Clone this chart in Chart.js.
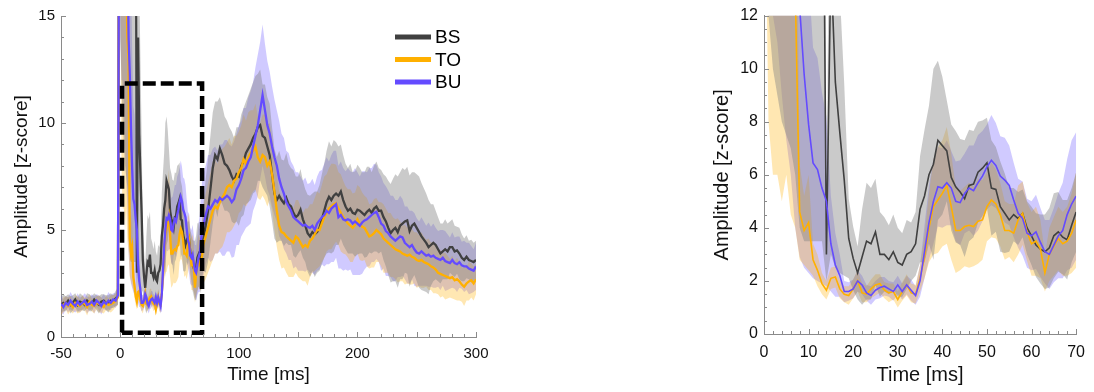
<!DOCTYPE html>
<html>
<head>
<meta charset="utf-8">
<script src="https://cdn.jsdelivr.net/npm/chart.js@4.4.1/dist/chart.umd.min.js"></script>
<style>
  html, body { margin: 0; padding: 0; background: #fff; }
  #wrap { position: relative; width: 1094px; height: 392px; }
  canvas { position: absolute; top: 0; }
  #fullChart { left: 0; }
  #zoomChart { left: 700px; }
</style>
</head>
<body>
<div id="wrap">
  <canvas id="fullChart" width="500" height="392"></canvas>
  <canvas id="zoomChart" width="394" height="392"></canvas>
</div>
<script>
// sample times: 2 ms steps before 0, 1 ms steps in 0..70, 2 ms steps after
const timeMs = [];
for (let t = -50; t < 0; t += 2) timeMs.push(t);
for (let t = 0; t <= 70; t++) timeMs.push(t);
for (let t = 72; t <= 300; t += 2) timeMs.push(t);

const seriesNames = ['BS', 'TO', 'BU'];
const fullXTicks = [-50, 0, 100, 200, 300];
const zoomBox = { x: [1.5, 69], y: [0.2, 11.85] };

// mean amplitude (z-score)
const bsMean = [
  1.5, 1.6, 1.55, 1.7, 1.5, 1.6, 1.75, 1.5, 1.65, 1.6,
  1.5, 1.7, 1.6, 1.55, 1.75, 1.6, 1.5, 1.65, 1.7, 1.6,
  1.55, 1.7, 1.65, 1.8, 1.9,
  40, 45, 45, 45, 45, 45, 45, 45, 45, 45,
  40, 35, 30, 25, 3.0, 14, 9.5, 7.6, 5.8, 3.6,
  2.85, 2.3, 2.9, 3.5, 3.4, 3.85, 3.0, 3.0, 2.8, 3.1,
  2.7, 2.6, 3.0, 3.1, 3.4, 4.7, 5.2, 6.0, 6.4, 7.3,
  7.1, 6.9, 5.9, 5.55, 5.35, 5.1, 5.6, 5.65, 6.1, 6.25,
  6.45, 5.5, 5.45, 4.8, 4.55, 4.3, 4.5, 4.35, 4.55, 4.0,
  3.7, 3.35, 3.2, 3.1, 3.25, 3.7, 3.85, 3.65, 3.55, 4.1,
  4.6,
  5.2, 5.9, 6.9, 7.9, 8.5, 8.3, 8.8, 8.5, 8.1, 8.0,
  7.8, 7.5, 7.3, 7.6, 7.5, 8.0, 8.2, 8.6, 8.8, 9.0,
  9.3, 9.5, 9.8, 9.9, 9.4, 9.3, 8.9, 8.5, 7.6, 6.7,
  6.4, 6.6, 6.4, 6.25, 6.5, 6.2, 6.1, 5.8, 5.6, 5.7,
  5.95, 5.5, 5.2, 4.85, 4.7, 4.9, 4.8, 4.9, 5.1, 5.5,
  5.9, 6.3, 6.55, 6.4, 6.6, 6.7, 6.6, 6.8, 6.4, 6.1,
  5.9, 6.0, 5.8, 5.75, 5.95, 5.9, 5.8, 5.7, 5.85, 5.95,
  5.8, 6.0, 6.1, 5.9, 5.9, 5.6, 5.4, 5.1, 4.85, 5.0,
  5.1, 4.9, 5.2, 5.3, 5.4, 5.45, 4.95, 5.2, 5.3, 5.1,
  4.9, 4.7, 4.55, 4.4, 4.2, 4.3, 4.4, 4.3, 4.1, 3.9,
  4.0, 4.1, 4.0, 4.2, 4.2, 4.0, 4.05, 3.9, 3.7, 3.6,
  3.75, 3.6, 3.55, 3.5, 3.6
];
const toMean = [
  1.35, 1.5, 1.6, 1.45, 1.55, 1.4, 1.6, 1.5, 1.45, 1.6,
  1.55, 1.4, 1.65, 1.5, 1.45, 1.6, 1.55, 1.5, 1.4, 1.6,
  1.5, 1.55, 1.6, 1.7, 1.85,
  40, 38, 34, 28, 22, 17, 14, 13, 4.6, 3.9,
  4.2, 2.8, 2.4, 1.9, 1.65, 2.1, 2.15, 1.7, 1.5, 1.45,
  1.7, 2.0, 1.55, 1.5, 1.7, 1.85, 1.9, 1.65, 1.55, 1.6,
  1.3, 1.6, 1.85, 1.55, 1.5, 2.1, 2.9, 4.0, 4.8, 5.05,
  5.3, 5.6, 4.8, 3.9, 3.9, 4.05, 4.1, 4.05, 4.25, 4.3,
  4.8, 5.05, 4.9, 4.5, 3.9, 3.9, 3.8, 4.3, 4.55, 3.85,
  3.4, 3.5, 3.2, 2.3, 3.0, 3.3, 3.6, 3.4, 3.5, 3.8,
  4.3,
  4.7, 5.1, 5.5, 5.9, 6.1, 6.0, 6.3, 6.5, 6.7, 7.0,
  7.1, 7.0, 7.3, 7.4, 7.7, 7.9, 8.3, 8.1, 8.4, 8.6,
  8.7, 8.9, 8.4, 8.2, 8.5, 8.4, 8.0, 8.2, 7.6, 6.8,
  5.9, 5.2, 4.9, 4.85, 4.7, 4.6, 4.5, 4.4, 4.7, 4.6,
  4.4, 4.2, 4.3, 4.2, 4.5, 4.6, 4.8, 5.0, 5.0, 5.3,
  5.6, 5.8, 6.0, 6.1, 6.2, 6.25, 6.0, 5.8, 5.6, 5.45,
  5.3, 5.2, 5.1, 5.25, 5.5, 5.3, 5.15, 5.1, 4.9, 4.7,
  4.75, 4.85, 5.0, 4.9, 4.8, 4.6, 4.5, 4.4, 4.3, 4.2,
  4.1, 4.05, 4.0, 3.9, 3.85, 3.8, 3.85, 3.75, 3.7, 3.6,
  3.55, 3.6, 3.5, 3.45, 3.4, 3.3, 3.25, 3.15, 3.0, 2.95,
  2.9, 2.85, 2.8, 2.75, 2.8, 2.65, 2.7, 2.6, 2.45, 2.35,
  2.5, 2.6, 2.65, 2.5, 2.7
];
const buMean = [
  1.55, 1.4, 1.6, 1.5, 1.7, 1.55, 1.45, 1.65, 1.5, 1.6,
  1.7, 1.5, 1.55, 1.65, 1.5, 1.7, 1.6, 1.45, 1.65, 1.55,
  1.7, 1.6, 1.75, 1.7, 1.95,
  40, 40, 38, 35, 30, 25, 19, 14, 12.3, 9.8,
  7.9, 6.45, 6.2, 5.5, 5.0, 3.4, 2.6, 2.2, 1.6, 1.6,
  1.7, 2.0, 1.85, 1.55, 1.45, 1.65, 1.75, 1.8, 1.7, 1.6,
  1.85, 1.6, 1.85, 1.65, 1.45, 2.0, 3.1, 4.2, 5.0, 5.55,
  5.5, 5.7, 5.5, 5.0, 4.95, 5.3, 5.5, 5.4, 5.7, 5.95,
  6.3, 6.55, 6.35, 5.95, 5.8, 5.6, 5.05, 4.55, 4.35, 3.8,
  3.7, 3.85, 3.45, 3.1, 3.0, 3.35, 3.7, 3.9, 4.5, 4.9,
  5.2,
  5.7, 6.1, 6.0, 6.2, 6.4, 6.3, 6.5, 6.4, 6.5, 6.6,
  6.5, 6.3, 6.45, 6.9, 7.1, 7.4, 7.8, 7.9, 8.2, 8.4,
  8.9, 9.4, 9.9, 10.6, 11.3, 10.6, 9.9, 9.5, 8.9, 8.4,
  8.0, 7.4, 7.0, 6.7, 6.3, 6.1, 5.9, 5.6, 5.5, 5.4,
  5.3, 5.2, 5.25, 5.15, 5.1, 5.2, 5.0, 5.3, 5.45, 5.6,
  5.7, 5.9, 5.8, 6.0, 6.1, 6.2, 5.6, 5.7, 5.5, 5.45,
  5.5, 5.45, 5.3, 5.4, 5.3, 5.2, 5.35, 5.45, 5.5, 5.6,
  5.7, 5.8, 5.85, 5.6, 5.3, 5.2, 4.95, 4.85, 4.7, 4.6,
  4.5, 4.6, 4.7, 4.65, 4.4, 4.3, 4.2, 4.3, 4.1, 3.95,
  3.9, 4.0, 3.9, 3.8, 3.85, 3.75, 3.8, 3.7, 3.65, 3.6,
  3.7, 3.55, 3.5, 3.45, 3.6, 3.45, 3.4, 3.5, 3.35, 3.3,
  3.3, 3.2, 3.15, 3.1, 3.3
];

// half-width of the shaded band around each mean
const bsErr = [
  0.35, 0.4, 0.35, 0.3, 0.4, 0.35, 0.3, 0.35, 0.4, 0.35,
  0.3, 0.35, 0.4, 0.35, 0.3, 0.35, 0.4, 0.35, 0.3, 0.35,
  0.4, 0.35, 0.3, 0.35, 0.4,
  26, 33, 35, 36, 37, 37.5, 38, 39, 41, 41.5,
  36.5, 31.5, 26.5, 21.5, 1.0, 11, 7, 5.3, 3.6, 1.5,
  1.2, 1.0, 1.8, 2.2, 2.1, 2.0, 1.6, 1.4, 1.3, 1.4,
  1.3, 1.2, 1.3, 1.1, 1.2, 2.0, 2.5, 2.6, 3.6, 3.0,
  2.6, 1.9, 2.0, 2.1, 2.0, 2.2, 2.1, 2.0, 1.9, 1.8,
  1.7, 1.8, 1.6, 1.7, 1.5, 1.2, 1.0, 1.0, 0.9, 1.0,
  1.1, 1.2, 1.3, 1.4, 1.5, 1.6, 1.5, 1.4, 1.5, 1.4,
  1.5,
  2.2, 2.4, 2.5, 2.6, 2.5, 2.7, 2.4, 2.3, 2.2, 2.1,
  2.0, 2.1, 2.0, 2.2, 2.3, 2.4, 2.5, 2.4, 2.5, 2.6,
  2.6, 2.7, 2.5, 2.6, 2.4, 2.5, 2.3, 2.4, 2.2, 2.1,
  2.0, 2.1, 1.9, 2.0, 2.1, 1.9, 1.8, 2.0, 1.9, 1.8,
  1.9, 1.8, 1.7, 1.8, 1.9, 1.8, 2.0, 1.9, 2.0, 2.1,
  2.2, 2.4, 2.6, 2.5, 2.6, 2.4, 2.3, 2.2, 2.1, 2.0,
  2.0, 2.1, 1.9, 2.0, 2.1, 2.0, 1.9, 2.0, 2.1, 2.0,
  1.9, 2.0, 2.1, 2.0, 1.9, 2.0, 2.1, 2.2, 2.3, 2.4,
  2.5, 2.6, 2.5, 2.6, 2.4, 2.5, 2.6, 2.5, 2.4, 2.5,
  2.6, 2.5, 2.4, 2.3, 2.2, 1.9, 1.8, 1.6, 1.5, 1.4,
  1.3, 1.4, 1.3, 1.2, 1.3, 1.2, 1.1, 1.2, 1.1, 1.0,
  1.0, 0.9, 1.0, 0.9, 0.9
];
const toErr = [
  0.3, 0.35, 0.3, 0.4, 0.35, 0.3, 0.35, 0.4, 0.3, 0.35,
  0.3, 0.4, 0.35, 0.3, 0.35, 0.3, 0.4, 0.35, 0.3, 0.35,
  0.3, 0.4, 0.35, 0.3, 0.35,
  20, 30, 28, 22, 17, 11, 9.5, 9, 1.8, 1.3,
  1.8, 0.6, 0.6, 0.4, 0.35, 0.4, 0.4, 0.35, 0.3, 0.35,
  0.35, 0.4, 0.35, 0.3, 0.35, 0.4, 0.35, 0.3, 0.35, 0.3,
  0.3, 0.35, 0.4, 0.35, 0.35, 0.5, 0.8, 1.3, 1.8, 2.0,
  2.0, 2.2, 2.0, 1.6, 1.5, 1.5, 1.6, 1.5, 1.6, 1.5,
  1.3, 1.4, 1.3, 1.2, 1.1, 1.0, 1.1, 1.3, 1.2, 1.1,
  1.2, 1.3, 1.1, 0.7, 1.0, 1.1, 1.2, 1.2, 1.3, 1.5,
  1.8,
  2.0, 2.1, 2.2, 2.3, 2.2, 2.1, 2.2, 2.3, 2.2, 2.1,
  2.2, 2.0, 2.1, 2.0, 1.9, 2.0, 2.1, 2.0, 2.1, 2.0,
  1.9, 2.0, 1.9, 1.8, 1.9, 2.0, 1.9, 1.8, 1.7, 1.8,
  1.7, 1.6, 1.7, 1.6, 1.7, 1.8, 1.7, 1.6, 1.7, 1.8,
  1.7, 1.6, 1.7, 1.8, 1.7, 1.6, 1.7, 1.8, 1.7, 1.8,
  1.9, 1.8, 1.9, 2.0, 1.9, 1.8, 1.7, 1.8, 1.7, 1.6,
  1.6, 1.7, 1.6, 1.5, 1.6, 1.7, 1.6, 1.5, 1.6, 1.5,
  1.5, 1.6, 1.5, 1.4, 1.5, 1.6, 1.5, 1.4, 1.5, 1.4,
  1.4, 1.5, 1.4, 1.3, 1.4, 1.3, 1.4, 1.3, 1.2, 1.3,
  1.2, 1.3, 1.2, 1.1, 1.2, 1.1, 1.2, 1.1, 1.0, 1.1,
  1.0, 1.1, 1.0, 0.9, 1.0, 0.9, 1.0, 0.9, 0.8, 0.9,
  0.8, 0.9, 0.8, 0.8, 0.7
];
const buErr = [
  0.4, 0.35, 0.3, 0.35, 0.4, 0.35, 0.3, 0.4, 0.35, 0.3,
  0.35, 0.4, 0.3, 0.35, 0.4, 0.3, 0.35, 0.4, 0.35, 0.3,
  0.4, 0.35, 0.3, 0.35, 0.4,
  25, 28, 26, 24, 21, 17.7, 13, 10, 9.4, 7.3,
  5.6, 4.35, 4.2, 3.6, 3.2, 1.8, 1.2, 0.8, 0.4, 0.35,
  0.35, 0.4, 0.35, 0.3, 0.35, 0.35, 0.4, 0.35, 0.3, 0.35,
  0.35, 0.3, 0.35, 0.4, 0.35, 0.6, 1.0, 1.4, 1.6, 1.5,
  1.5, 1.6, 1.4, 1.5, 1.6, 1.5, 1.6, 1.7, 1.8, 1.7,
  1.6, 1.7, 1.6, 1.5, 1.6, 1.5, 1.4, 1.3, 1.4, 1.3,
  1.3, 1.4, 1.3, 1.2, 1.3, 1.4, 1.6, 1.8, 2.1, 2.4,
  2.4,
  2.3, 2.4, 2.5, 2.6, 2.5, 2.4, 2.5, 2.6, 2.7, 2.6,
  2.5, 2.6, 2.7, 2.6, 2.8, 2.7, 2.9, 2.8, 3.0, 3.1,
  3.0, 3.2, 3.3, 3.2, 3.3, 3.1, 3.0, 2.9, 2.8, 2.7,
  2.6, 2.7, 2.5, 2.6, 2.4, 2.5, 2.3, 2.4, 2.2, 2.3,
  2.2, 2.1, 2.2, 2.0, 2.1, 2.2, 2.1, 2.2, 2.3, 2.2,
  2.4, 2.5, 2.4, 2.5, 2.6, 2.5, 2.4, 2.5, 2.4, 2.3,
  2.4, 2.3, 2.4, 2.5, 2.4, 2.3, 2.4, 2.3, 2.2, 2.3,
  2.2, 2.3, 2.2, 2.1, 2.2, 2.0, 2.1, 2.0, 1.9, 2.0,
  1.9, 1.8, 1.9, 1.8, 1.7, 1.8, 1.7, 1.6, 1.7, 1.6,
  1.5, 1.6, 1.5, 1.4, 1.5, 1.4, 1.5, 1.4, 1.3, 1.4,
  1.3, 1.4, 1.3, 1.2, 1.3, 1.2, 1.3, 1.2, 1.1, 1.2,
  1.1, 1.2, 1.1, 1.0, 1.1
];

const lineColors = ['#404040', '#FFB000', '#644BFF'];
const bandColors = ['rgba(128,128,128,0.42)', 'rgba(255,176,0,0.3)', 'rgba(100,80,255,0.3)'];
const axisGray = '#8a8a8a';

const series = [
  { mean: bsMean, err: bsErr },
  { mean: toMean, err: toErr },
  { mean: buMean, err: buErr }
];

series.forEach((s, k) => {
  if (s.mean.length !== timeMs.length || s.err.length !== timeMs.length) {
    console.warn(seriesNames[k], s.mean.length, s.err.length, timeMs.length);
  }
});

Chart.defaults.font.family = "'Liberation Sans', Arial, Helvetica, sans-serif";
Chart.defaults.color = '#111';

function points(values) {
  return timeMs.map((t, i) => ({ x: t, y: values[i] }));
}

function buildDatasets(lineWidth) {
  const sets = [];
  series.forEach((s, k) => {
    sets.push({
      label: seriesNames[k] + ' upper',
      data: points(s.mean.map((m, i) => m + s.err[i])),
      borderWidth: 0, pointRadius: 0, fill: '+1',
      backgroundColor: bandColors[k], order: 10
    });
    sets.push({
      label: seriesNames[k] + ' lower',
      data: points(s.mean.map((m, i) => m - s.err[i])),
      borderWidth: 0, pointRadius: 0, fill: false, order: 10
    });
  });
  series.forEach((s, k) => {
    sets.push({
      label: seriesNames[k],
      data: points(s.mean),
      borderColor: lineColors[k], borderWidth: lineWidth,
      pointRadius: 0, fill: false, tension: 0, order: 3 - k
    });
  });
  return sets;
}

// MATLAB-style ticks pointing into the plot
const innerTicks = {
  id: 'innerTicks',
  afterDatasetsDraw(chart, args, opts) {
    const { ctx, chartArea: a, scales: { x, y } } = chart;
    const near = (v, step) => Math.abs(v / step - Math.round(v / step)) < 1e-6;
    ctx.save();
    ctx.strokeStyle = axisGray;
    ctx.lineWidth = 1;
    ctx.beginPath();
    for (let v = x.min; v <= x.max + 1e-9; v += opts.xMinor) {
      const px = Math.round(x.getPixelForValue(v)) + 0.5;
      const len = near(v, opts.xMajor) ? 5 : 3;
      ctx.moveTo(px, a.bottom);
      ctx.lineTo(px, a.bottom - len);
    }
    for (let v = y.min; v <= y.max + 1e-9; v += opts.yMinor) {
      const py = Math.round(y.getPixelForValue(v)) + 0.5;
      const len = near(v, opts.yMajor) ? 5 : 3;
      ctx.moveTo(a.left, py);
      ctx.lineTo(a.left + len, py);
    }
    ctx.stroke();
    ctx.restore();
  }
};

const seriesLegend = {
  id: 'seriesLegend',
  afterDraw(chart) {
    const { ctx, chartArea: a } = chart;
    const x0 = a.right - 81;
    ctx.save();
    ctx.font = "19px 'Liberation Sans', Arial, sans-serif";
    ctx.textBaseline = 'middle';
    ctx.fillStyle = '#000';
    seriesNames.forEach((name, k) => {
      const yy = a.top + 21 + k * 22.5;
      ctx.strokeStyle = lineColors[k];
      ctx.lineWidth = 5;
      ctx.beginPath();
      ctx.moveTo(x0, yy);
      ctx.lineTo(x0 + 36, yy);
      ctx.stroke();
      ctx.fillText(name, x0 + 40, yy + 1);
    });
    ctx.restore();
  }
};

function axisOptions(cfg) {
  return {
    x: {
      type: 'linear', min: cfg.xMin, max: cfg.xMax,
      grid: { display: false, drawTicks: false },
      border: { display: true, color: axisGray, width: 1 },
      ticks: { stepSize: cfg.xStep, padding: cfg.xPad, font: { size: cfg.tickSize }, maxRotation: 0 },
      afterBuildTicks: cfg.xTicks ? (s) => { s.ticks = cfg.xTicks.map(v => ({ value: v })); } : undefined,
      afterFit: (s) => { s.height = cfg.xHeight; },
      title: { display: true, text: 'Time [ms]', font: { size: cfg.titleSize }, color: '#111', padding: { top: 0, bottom: cfg.xTitlePad } }
    },
    y: {
      type: 'linear', min: 0, max: cfg.yMax,
      grid: { display: false, drawTicks: false },
      border: { display: true, color: axisGray, width: 1 },
      ticks: { stepSize: cfg.yStep, padding: 6, font: { size: cfg.tickSize } },
      afterFit: (s) => { s.width = cfg.yWidth; },
      title: { display: true, text: 'Amplitude [z-score]', font: { size: cfg.titleSize }, color: '#111', padding: { top: 10, bottom: 0 } }
    }
  };
}

const fullSets = buildDatasets(2.3);
fullSets.push({
  label: 'zoom window',
  data: [
    { x: zoomBox.x[0], y: zoomBox.y[0] },
    { x: zoomBox.x[0], y: zoomBox.y[1] },
    { x: zoomBox.x[1], y: zoomBox.y[1] },
    { x: zoomBox.x[1], y: zoomBox.y[0] },
    { x: zoomBox.x[0], y: zoomBox.y[0] }
  ],
  borderColor: '#000', borderWidth: 4.5, borderDash: [13, 5],
  borderCapStyle: 'butt', borderJoinStyle: 'miter',
  pointRadius: 0, fill: false, order: 0
});

new Chart(document.getElementById('fullChart'), {
  type: 'line',
  data: { datasets: fullSets },
  options: {
    responsive: false,
    animation: false,
    layout: { padding: { top: 16, right: 24, left: 0, bottom: 0 } },
    scales: axisOptions({
      xMin: -50, xMax: 300, xStep: 50, xTicks: fullXTicks, xPad: 8, xHeight: 55, xTitlePad: 6,
      yMax: 15, yStep: 5, yWidth: 61, tickSize: 15, titleSize: 19
    }),
    plugins: {
      legend: { display: false },
      tooltip: { enabled: false },
      innerTicks: { xMinor: 10, xMajor: 50, yMinor: 1, yMajor: 5 }
    }
  },
  plugins: [innerTicks, seriesLegend]
});

new Chart(document.getElementById('zoomChart'), {
  type: 'line',
  data: { datasets: buildDatasets(1.6) },
  options: {
    responsive: false,
    animation: false,
    layout: { padding: { top: 15, right: 14, left: 0, bottom: 0 } },
    scales: axisOptions({
      xMin: 0, xMax: 70, xStep: 10, xPad: 9, xHeight: 58, xTitlePad: 5,
      yMax: 12, yStep: 2, yWidth: 64, tickSize: 16, titleSize: 20
    }),
    plugins: {
      legend: { display: false },
      tooltip: { enabled: false },
      innerTicks: { xMinor: 2, xMajor: 10, yMinor: 0.5, yMajor: 2 }
    }
  },
  plugins: [innerTicks]
});
</script>
</body>
</html>
